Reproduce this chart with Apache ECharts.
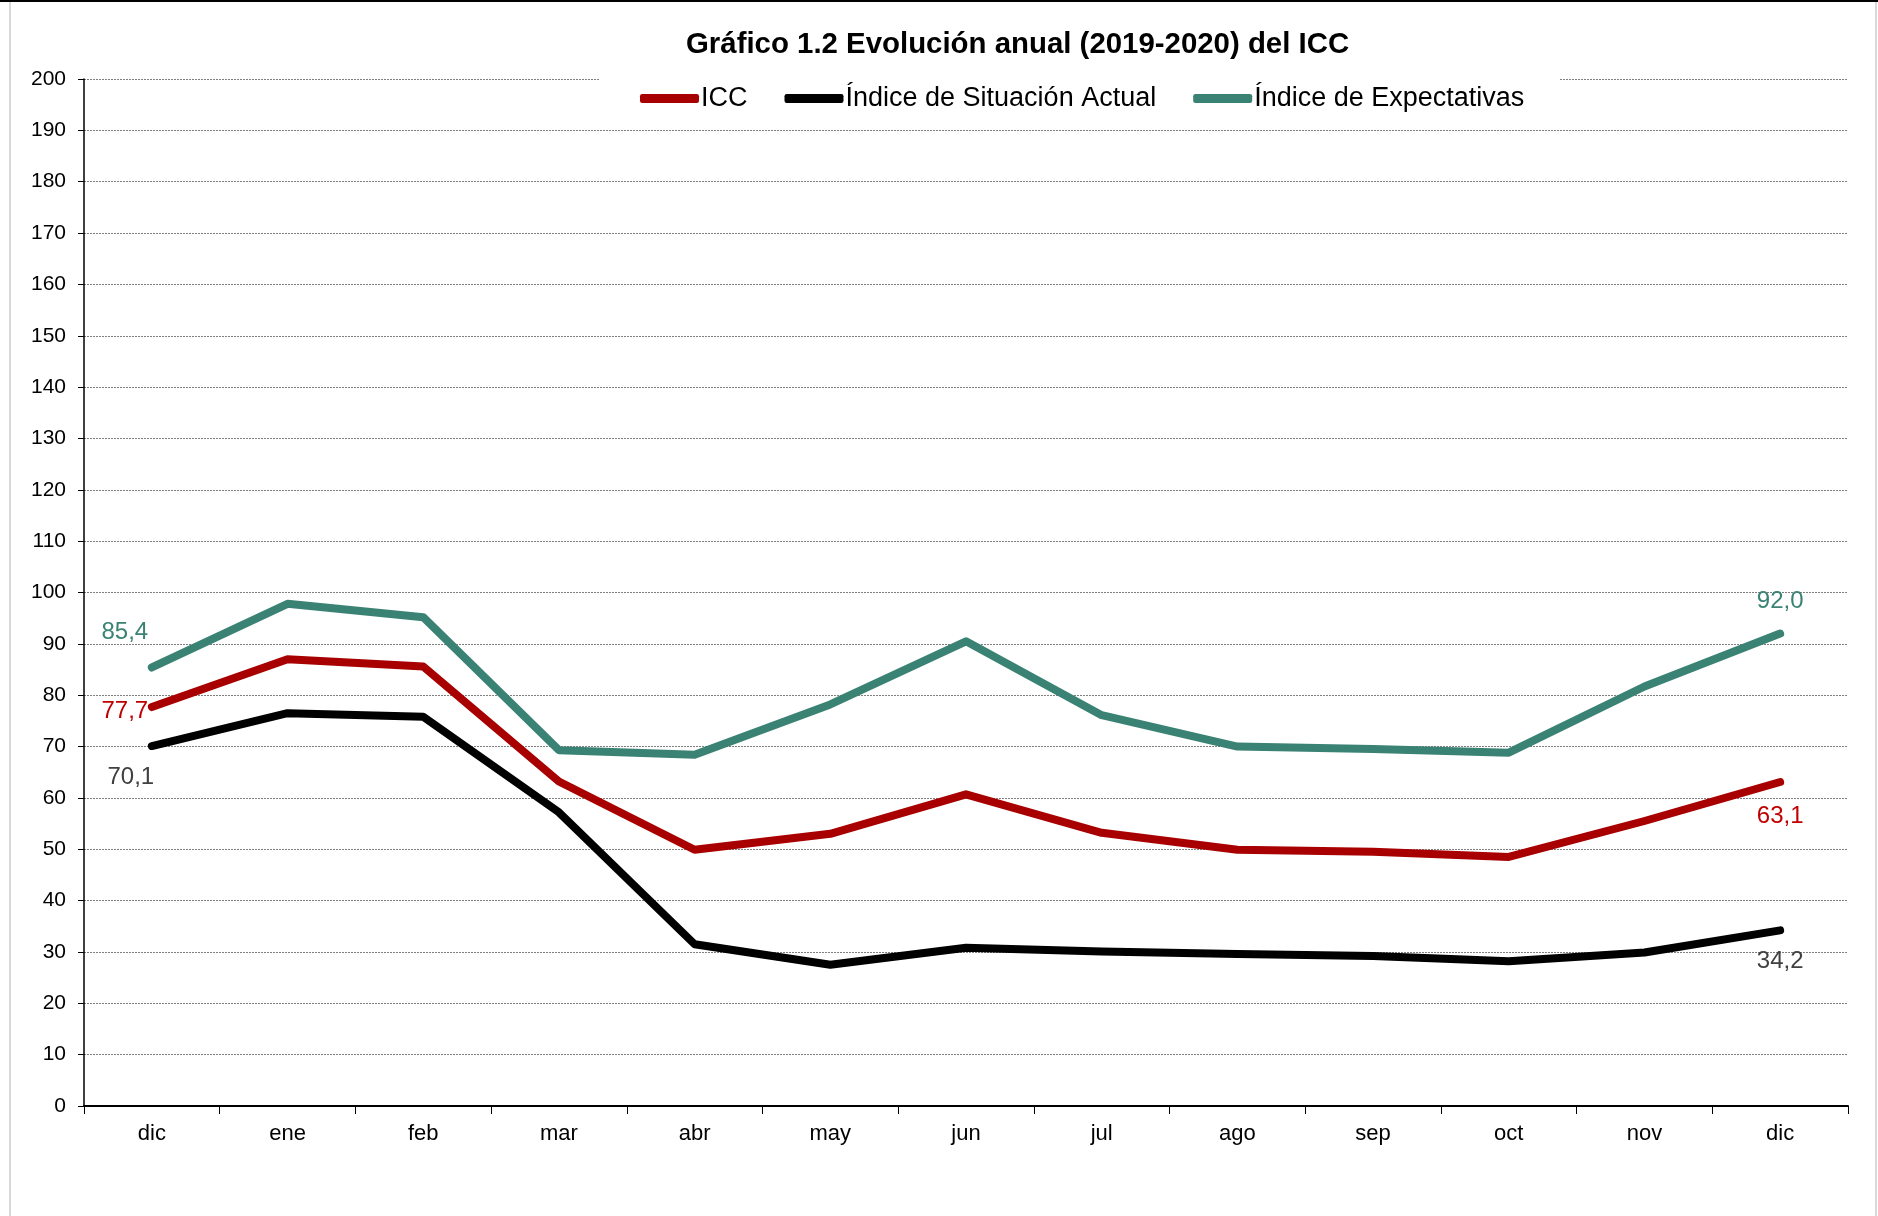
<!DOCTYPE html>
<html>
<head>
<meta charset="utf-8">
<script src="https://cdn.jsdelivr.net/npm/echarts@6/dist/echarts.min.js"></script>
<style>
html,body{margin:0;padding:0;background:#fff;}
#chart{width:1878px;height:1216px;}
</style>
</head>
<body>
<div id="chart"></div>
<script>
const categories = ['dic','ene','feb','mar','abr','may','jun','jul','ago','sep','oct','nov','dic'];
const icc = [77.7, 87.0, 85.6, 63.2, 49.9, 53.0, 60.7, 53.2, 49.9, 49.5, 48.5, 55.5, 63.1];
const situacionActual = [70.1, 76.5, 75.8, 57.2, 31.5, 27.5, 30.8, 30.1, 29.6, 29.2, 28.2, 29.9, 34.2];
const expectativas = [85.4, 97.8, 95.2, 69.3, 68.4, 78.2, 90.5, 76.1, 70.0, 69.5, 68.8, 81.7, 92.0];
const yTicks = [0, 200, 10];

const FONT = '"Liberation Sans", Arial, sans-serif';
const fmt = v => v.toFixed(1).replace('.', ',');

function buildData(values, color, firstOffset, lastOffset) {
  return values.map((v, i) => {
    const item = { value: v };
    if (i === 0 || i === values.length - 1) {
      item.label = {
        show: true,
        position: 'inside',
        offset: i === 0 ? firstOffset : lastOffset,
        formatter: p => fmt(p.value),
        color: color,
        fontSize: 24,
        fontFamily: FONT
      };
    }
    return item;
  });
}

const chart = echarts.init(document.getElementById('chart'), null, { renderer: 'canvas' });
const option = {
  animation: false,
  backgroundColor: '#ffffff',
  title: {
    text: 'Gráfico 1.2 Evolución anual (2019-2020) del ICC',
    left: 681,
    top: 25,
    textStyle: { fontFamily: FONT, fontWeight: 'bold', fontSize: 29.4, color: '#000' }
  },
  legend: {
    left: 599,
    top: 77,
    padding: [8, 35, 5, 41],
    backgroundColor: '#ffffff',
    itemWidth: 59,
    itemHeight: 9,
    itemGap: 37,
    icon: 'roundRect',
    textStyle: { fontFamily: FONT, fontSize: 27, color: '#000', padding: [0, 0, 0, -3] },
    data: ['ICC', 'Índice de Situación Actual', 'Índice de Expectativas']
  },
  grid: { left: 84, right: 30, top: 79, bottom: 110, containLabel: false },
  xAxis: {
    type: 'category',
    data: categories,
    boundaryGap: true,
    axisLine: { lineStyle: { color: '#000', width: 2 } },
    axisTick: { show: true, length: 8, lineStyle: { color: '#000', width: 1 } },
    axisLabel: { fontFamily: FONT, fontSize: 22, color: '#000', margin: 17 }
  },
  yAxis: {
    type: 'value',
    min: yTicks[0], max: yTicks[1], interval: yTicks[2],
    axisLine: { show: true, lineStyle: { color: '#000', width: 1.5 } },
    axisTick: { show: true, length: 6, lineStyle: { color: '#000' } },
    axisLabel: { fontFamily: FONT, fontSize: 21, color: '#000', margin: 18 },
    splitLine: { show: true, lineStyle: { color: '#7f7f7f', width: 1, type: [2, 1] } }
  },
  series: [
    {
      name: 'ICC', type: 'line',
      data: buildData(icc, '#C00000', [-27, 4], [0, 34]),
      color: '#A80000',
      symbol: 'circle', symbolSize: 1, showSymbol: true,
      lineStyle: { width: 8, color: '#A80000', cap: 'round', join: 'round' },
      z: 3
    },
    {
      name: 'Índice de Situación Actual', type: 'line',
      data: buildData(situacionActual, '#404040', [-21, 31], [0, 31]),
      color: '#000000',
      symbol: 'circle', symbolSize: 1, showSymbol: true,
      lineStyle: { width: 8, color: '#000000', cap: 'round', join: 'round' },
      z: 3
    },
    {
      name: 'Índice de Expectativas', type: 'line',
      data: buildData(expectativas, '#3A8274', [-27, -35], [0, -32]),
      color: '#3A8274',
      symbol: 'circle', symbolSize: 1, showSymbol: true,
      lineStyle: { width: 8, color: '#3A8274', cap: 'round', join: 'round' },
      z: 3
    }
  ],
  graphic: [
    { type: 'line', shape: { x1: 0, y1: 1, x2: 1878, y2: 1 }, style: { stroke: '#000', lineWidth: 2 } },
    { type: 'line', shape: { x1: 10, y1: 2, x2: 10, y2: 1216 }, style: { stroke: '#d9d9d9', lineWidth: 2 } },
    { type: 'line', shape: { x1: 1876, y1: 2, x2: 1876, y2: 1216 }, style: { stroke: '#d9d9d9', lineWidth: 2 } }
  ]
};
chart.setOption(option);
</script>
</body>
</html>
